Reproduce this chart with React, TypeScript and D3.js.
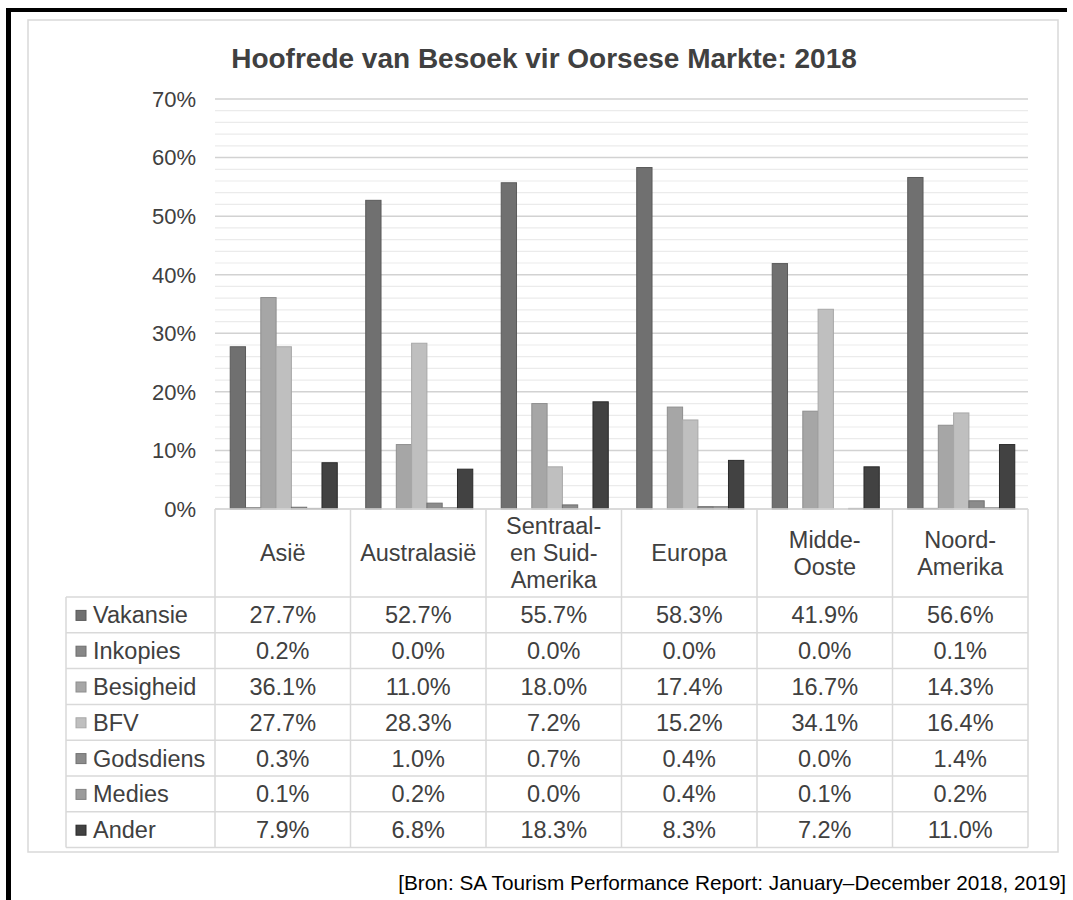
import { useEffect, useRef } from 'react'
import * as d3 from 'd3'

// regions (header lines as they wrap in the table)
const regions = ['Asië', 'Australasië', 'Sentraal-en Suid-Amerika', 'Europa', 'Midde-Ooste', 'Noord-Amerika']
const regionLines = [['Asië'], ['Australasië'], ['Sentraal-', 'en Suid-', 'Amerika'], ['Europa'], ['Midde-', 'Ooste'], ['Noord-', 'Amerika']]

const seriesNames = ['Vakansie', 'Inkopies', 'Besigheid', 'BFV', 'Godsdiens', 'Medies', 'Ander']
const vakansie = [27.7, 52.7, 55.7, 58.3, 41.9, 56.6]
const inkopies = [0.2, 0.0, 0.0, 0.0, 0.0, 0.1]
const besigheid = [36.1, 11.0, 18.0, 17.4, 16.7, 14.3]
const bfv = [27.7, 28.3, 7.2, 15.2, 34.1, 16.4]
const godsdiens = [0.3, 1.0, 0.7, 0.4, 0.0, 1.4]
const medies = [0.1, 0.2, 0.0, 0.4, 0.1, 0.2]
const ander = [7.9, 6.8, 18.3, 8.3, 7.2, 11.0]

const yTicks = [0, 10, 20, 30, 40, 50, 60, 70]

const title = 'Hoofrede van Besoek vir Oorsese Markte: 2018'
const source = '[Bron: SA Tourism Performance Report: January\u2013December 2018, 2019]'

const fills = ['#707070', '#878787', '#a6a6a6', '#bfbfbf', '#8b8b8b', '#9b9b9b', '#424242']
const strokes = ['#5a5a5a', '#6e6e6e', '#8e8e8e', '#a8a8a8', '#727272', '#828282', '#2a2a2a']

const FONT = '"Liberation Sans", Arial, sans-serif'
const TEXT = '#404040'

export default function App() {
  const ref = useRef<SVGSVGElement>(null)

  useEffect(() => {
    const W = 1073, H = 900
    const svg = d3.select(ref.current)
    svg.selectAll('*').remove()
    svg.attr('viewBox', `0 0 ${W} ${H}`)

    const allSeries = [vakansie, inkopies, besigheid, bfv, godsdiens, medies, ander]
    const rows = seriesNames.map((name, i) => ({ name, values: allSeries[i], i }))

    // outer black frame (top + left)
    svg.append('rect').attr('x', 6).attr('y', 8).attr('width', 1061).attr('height', 4).attr('fill', '#000')
    svg.append('rect').attr('x', 6).attr('y', 8).attr('width', 5).attr('height', H - 8).attr('fill', '#000')

    // chart area border
    svg.append('rect')
      .attr('x', 28).attr('y', 20).attr('width', 1030).attr('height', 832)
      .attr('fill', '#fff').attr('stroke', '#d9d9d9').attr('stroke-width', 1.5)

    svg.append('text')
      .attr('x', 544).attr('y', 68)
      .attr('text-anchor', 'middle')
      .style('font-family', FONT).style('font-size', '28px').style('font-weight', 'bold')
      .attr('fill', TEXT)
      .text(title)

    const left = 215, right = 1028, top = 99, bottom = 509
    const x0 = d3.scaleBand().domain(regions).range([left, right]).paddingInner(0).paddingOuter(0)
    const gap = x0.bandwidth() * 0.21
    const x1 = d3.scaleBand().domain(seriesNames).range([gap / 2 + 1, x0.bandwidth() - gap / 2 + 1]).padding(0)
    const y = d3.scaleLinear().domain([0, 70]).range([bottom, top])

    // minor grid (every 2%) then major grid (every 10%)
    const minor = d3.range(0, 70.01, 2).filter(v => v % 10 !== 0)
    svg.append('g').selectAll('line').data(minor).enter().append('line')
      .attr('x1', left).attr('x2', right)
      .attr('y1', d => y(d)).attr('y2', d => y(d))
      .attr('stroke', '#ebebeb').attr('stroke-width', 1.2)
    svg.append('g').selectAll('line').data(yTicks).enter().append('line')
      .attr('x1', left).attr('x2', right)
      .attr('y1', d => y(d)).attr('y2', d => y(d))
      .attr('stroke', '#d2d2d2').attr('stroke-width', 1.5)

    svg.append('g').selectAll('text').data(yTicks).enter().append('text')
      .attr('x', 196).attr('y', d => y(d)).attr('dy', '0.36em')
      .attr('text-anchor', 'end')
      .style('font-family', FONT).style('font-size', '22px')
      .attr('fill', TEXT)
      .text(d => `${d}%`)

    // bars
    const groups = svg.append('g').selectAll('g').data(regions).enter().append('g')
      .attr('transform', d => `translate(${x0(d)},0)`)
    groups.selectAll('rect')
      .data((_, ci) => rows.map(r => ({ key: r.name, value: r.values[ci], i: r.i })))
      .enter().append('rect')
      .attr('x', d => x1(d.key)!)
      .attr('y', d => y(d.value))
      .attr('width', x1.bandwidth())
      .attr('height', d => bottom - y(d.value))
      .attr('fill', d => fills[d.i])
      .attr('stroke', d => strokes[d.i]).attr('stroke-width', 1)

    // data table
    const lineCol = '#d9d9d9'
    const rowTop = 597, rowH = 35.8
    const legLeft = 66
    const tableBottom = rowTop + rowH * rows.length
    const fs = '23.5px'
    const t = svg.append('g')
    t.append('line').attr('x1', left).attr('x2', right).attr('y1', bottom).attr('y2', bottom)
      .attr('stroke', lineCol).attr('stroke-width', 1.5)
    d3.range(rows.length + 1).forEach(k => {
      t.append('line').attr('x1', legLeft).attr('x2', right)
        .attr('y1', rowTop + k * rowH).attr('y2', rowTop + k * rowH)
        .attr('stroke', lineCol).attr('stroke-width', 1.5)
    })
    t.append('line').attr('x1', legLeft).attr('x2', legLeft).attr('y1', rowTop).attr('y2', tableBottom)
      .attr('stroke', lineCol).attr('stroke-width', 1.5)
    d3.range(regions.length + 1).forEach(k => {
      const xx = left + k * x0.bandwidth()
      t.append('line').attr('x1', xx).attr('x2', xx).attr('y1', bottom).attr('y2', tableBottom)
        .attr('stroke', lineCol).attr('stroke-width', 1.5)
    })

    // header labels
    regions.forEach((r, ci) => {
      const lines = regionLines[ci]
      const cx = x0(r)! + x0.bandwidth() / 2
      const cy = (bottom + rowTop) / 2
      const lh = 27
      lines.forEach((ln, li) => {
        t.append('text')
          .attr('x', cx).attr('y', cy + (li - (lines.length - 1) / 2) * lh).attr('dy', '0.36em')
          .attr('text-anchor', 'middle')
          .style('font-family', FONT).style('font-size', fs)
          .attr('fill', TEXT)
          .text(ln)
      })
    })

    // legend column + values
    rows.forEach((r, ri) => {
      const cy = rowTop + ri * rowH + rowH / 2
      t.append('rect').attr('x', 76).attr('y', cy - 4.5).attr('width', 10).attr('height', 10)
        .attr('fill', fills[r.i]).attr('stroke', strokes[r.i]).attr('stroke-width', 1)
      t.append('text').attr('x', 93).attr('y', cy).attr('dy', '0.36em')
        .style('font-family', FONT).style('font-size', '23.5px')
        .attr('fill', TEXT).text(r.name)
      r.values.forEach((v, ci) => {
        t.append('text')
          .attr('x', x0(regions[ci])! + x0.bandwidth() / 2).attr('y', cy).attr('dy', '0.36em')
          .attr('text-anchor', 'middle')
          .style('font-family', FONT).style('font-size', fs)
          .attr('fill', TEXT)
          .text(`${v.toFixed(1)}%`)
      })
    })

    svg.append('text')
      .attr('x', 1066).attr('y', 890)
      .attr('text-anchor', 'end')
      .style('font-family', FONT).style('font-size', '20.8px')
      .attr('fill', '#000')
      .text(source)
  }, [])

  return <svg ref={ref} width={1073} height={900} style={{ position: 'absolute', left: 0, top: 0, background: '#fff' }} />
}
